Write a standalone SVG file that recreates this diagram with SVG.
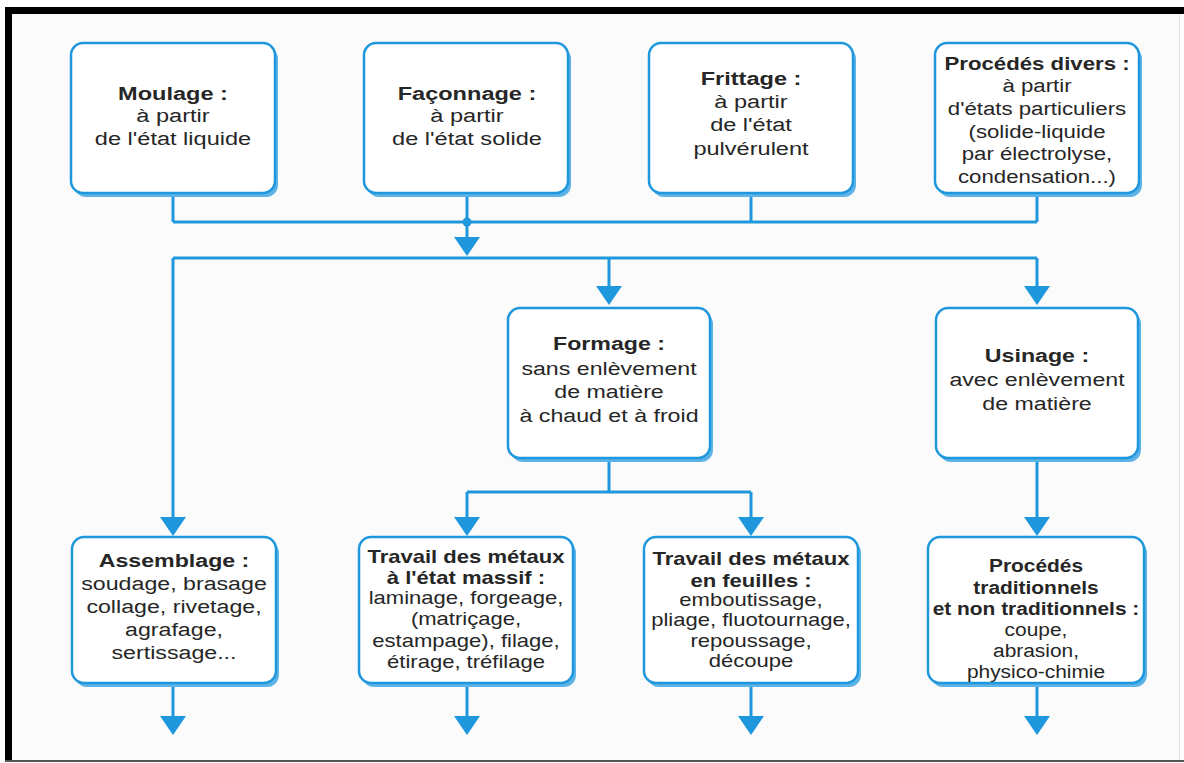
<svg xmlns="http://www.w3.org/2000/svg" width="1184" height="763" viewBox="0 0 1184 763">
<defs>
<style>
.bx{fill:#ffffff;stroke:#1f97dd;stroke-width:2.5}
.sh{fill:#5db3e6}
.ln{fill:none;stroke:#1f97dd;stroke-width:3}
.ar{fill:#1f97dd}
text{font-family:"Liberation Sans",Arial,sans-serif;font-size:19px;fill:#262626;text-anchor:middle}
.b{font-weight:bold}
</style>
</defs>
<rect x="0" y="0" width="1184" height="763" fill="#ffffff"/>
<rect x="12" y="14" width="1168" height="746" fill="#fbfbfb"/>
<rect x="5" y="7" width="1179" height="7" fill="#000"/>
<rect x="5" y="7" width="7" height="755" fill="#000"/>
<rect x="5" y="760" width="1179" height="2" fill="#555"/>
<rect x="1179" y="14" width="1" height="746" fill="#e4e4e4"/>

<g id="connectors">
<path class="ln" d="M173,193V222M467,193V240M751,193V222M1037,193V222M173,222H1037"/>
<circle cx="467" cy="222" r="4.5" class="ar"/>
<polygon class="ar" points="454,237 480,237 467,256"/>
<path class="ln" d="M173,258H1037M173,258V520M609,258V289M1037,258V289"/>
<polygon class="ar" points="160,517 186,517 173,536"/>
<polygon class="ar" points="596,286 622,286 609,305"/>
<polygon class="ar" points="1024,286 1050,286 1037,305"/>
<path class="ln" d="M609,458V492M467,492H751M467,492V520M751,492V520M1037,458V520"/>
<polygon class="ar" points="454,517 480,517 467,536"/>
<polygon class="ar" points="738,517 764,517 751,536"/>
<polygon class="ar" points="1024,517 1050,517 1037,536"/>
<path class="ln" d="M173,683V718M467,683V718M751,683V718M1037,683V718"/>
<polygon class="ar" points="160,716 186,716 173,735"/>
<polygon class="ar" points="454,716 480,716 467,735"/>
<polygon class="ar" points="738,716 764,716 751,735"/>
<polygon class="ar" points="1024,716 1050,716 1037,735"/>
</g>

<g id="moulage">
<rect class="sh" x="74" y="47" width="204" height="150" rx="12"/>
<rect class="bx" x="71" y="43" width="204" height="150" rx="12"/>
<text transform="translate(173,0) scale(1.24,1)"><tspan class="b" x="0" y="100">Moulage :</tspan><tspan x="0" y="122">à partir</tspan><tspan x="0" y="145">de l'état liquide</tspan></text>
</g>

<g id="faconnage">
<rect class="sh" x="367" y="47" width="204" height="150" rx="12"/>
<rect class="bx" x="364" y="43" width="204" height="150" rx="12"/>
<text transform="translate(467,0) scale(1.24,1)"><tspan class="b" x="0" y="100">Façonnage :</tspan><tspan x="0" y="122">à partir</tspan><tspan x="0" y="145">de l'état solide</tspan></text>
</g>

<g id="frittage">
<rect class="sh" x="652" y="47" width="204" height="150" rx="12"/>
<rect class="bx" x="649" y="43" width="204" height="150" rx="12"/>
<text transform="translate(751,0) scale(1.24,1)"><tspan class="b" x="0" y="85">Frittage :</tspan><tspan x="0" y="108">à partir</tspan><tspan x="0" y="131">de l'état</tspan><tspan x="0" y="155">pulvérulent</tspan></text>
</g>

<g id="procedes-divers">
<rect class="sh" x="938" y="47" width="204" height="150" rx="12"/>
<rect class="bx" x="935" y="43" width="204" height="150" rx="12"/>
<text transform="translate(1037,0) scale(1.17,1)"><tspan class="b" x="0" y="70">Procédés divers :</tspan><tspan x="0" y="92">à partir</tspan><tspan x="0" y="115">d'états particuliers</tspan><tspan x="0" y="138">(solide-liquide</tspan><tspan x="0" y="160">par électrolyse,</tspan><tspan x="0" y="183">condensation...)</tspan></text>
</g>

<g id="formage">
<rect class="sh" x="511" y="312" width="202" height="150" rx="12"/>
<rect class="bx" x="508" y="308" width="202" height="150" rx="12"/>
<text transform="translate(609,0) scale(1.22,1)"><tspan class="b" x="0" y="350">Formage :</tspan><tspan x="0" y="375">sans enlèvement</tspan><tspan x="0" y="398">de matière</tspan><tspan x="0" y="422">à chaud et à froid</tspan></text>
</g>

<g id="usinage">
<rect class="sh" x="939" y="312" width="202" height="150" rx="12"/>
<rect class="bx" x="936" y="308" width="202" height="150" rx="12"/>
<text transform="translate(1037,0) scale(1.22,1)"><tspan class="b" x="0" y="362">Usinage :</tspan><tspan x="0" y="386">avec enlèvement</tspan><tspan x="0" y="410">de matière</tspan></text>
</g>

<g id="assemblage">
<rect class="sh" x="75" y="541" width="204" height="146" rx="12"/>
<rect class="bx" x="72" y="537" width="204" height="146" rx="12"/>
<text transform="translate(174,0) scale(1.22,1)"><tspan class="b" x="0" y="567">Assemblage :</tspan><tspan x="0" y="590">soudage, brasage</tspan><tspan x="0" y="613">collage, rivetage,</tspan><tspan x="0" y="636">agrafage,</tspan><tspan x="0" y="659">sertissage...</tspan></text>
</g>

<g id="travail-massif">
<rect class="sh" x="362" y="541" width="214" height="146" rx="12"/>
<rect class="bx" x="359" y="537" width="214" height="146" rx="12"/>
<text transform="translate(466,0) scale(1.16,1)"><tspan class="b" x="0" y="563">Travail des métaux</tspan><tspan class="b" x="0" y="584">à l'état massif :</tspan><tspan x="0" y="604">laminage, forgeage,</tspan><tspan x="0" y="625">(matriçage,</tspan><tspan x="0" y="647">estampage), filage,</tspan><tspan x="0" y="668">étirage, tréfilage</tspan></text>
</g>

<g id="travail-feuilles">
<rect class="sh" x="647" y="541" width="214" height="146" rx="12"/>
<rect class="bx" x="644" y="537" width="214" height="146" rx="12"/>
<text transform="translate(751,0) scale(1.16,1)"><tspan class="b" x="0" y="565">Travail des métaux</tspan><tspan class="b" x="0" y="587">en feuilles :</tspan><tspan x="0" y="606">emboutissage,</tspan><tspan x="0" y="626">pliage, fluotournage,</tspan><tspan x="0" y="647">repoussage,</tspan><tspan x="0" y="667">découpe</tspan></text>
</g>

<g id="procedes-traditionnels">
<rect class="sh" x="931" y="541" width="216" height="146" rx="12"/>
<rect class="bx" x="928" y="537" width="216" height="146" rx="12"/>
<text transform="translate(1036,0) scale(1.1,1)"><tspan class="b" x="0" y="572">Procédés</tspan><tspan class="b" x="0" y="594">traditionnels</tspan><tspan class="b" x="0" y="615">et non traditionnels :</tspan><tspan x="0" y="636">coupe,</tspan><tspan x="0" y="657">abrasion,</tspan><tspan x="0" y="678">physico-chimie</tspan></text>
</g>
</svg>
